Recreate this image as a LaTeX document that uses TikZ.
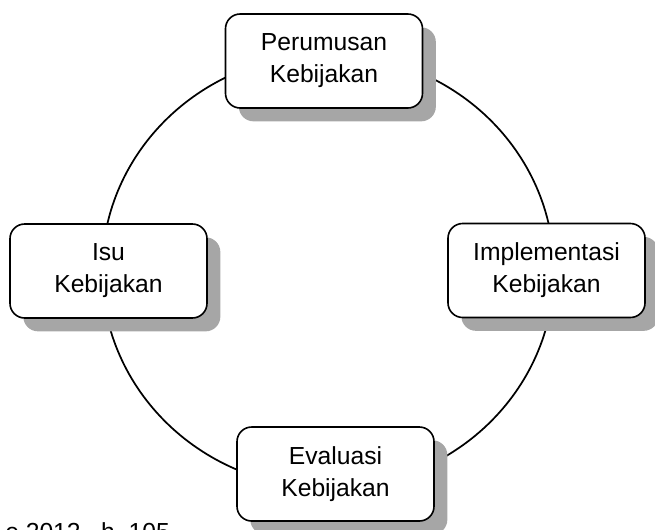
\documentclass[tikz,border=0pt]{standalone}
\usepackage{fontspec}
\setmainfont{Liberation Sans}
\usepackage{xcolor}
\usepackage{tikz}
\usetikzlibrary{shadows}

\begin{document}
\begin{tikzpicture}[x=0.75pt,y=-0.75pt,font=\fontsize{18.5}{24}\selectfont,
  tahap/.style={draw,line width=1.2pt,fill=white,rounded corners=11pt,align=center,
    minimum width=147.75pt,minimum height=70.5pt,inner sep=0pt,
    drop shadow={shadow xshift=10pt,shadow yshift=-10pt,fill=black!35,opacity=1}}]
\useasboundingbox (0,0) rectangle (655,529);
% siklus kebijakan
\draw[line width=1.3pt] (328,271) ellipse [x radius=226, y radius=217];
\node[tahap] (rumus) at (324,61) {Perumusan\\ Kebijakan};
\node[tahap] (isu) at (108.5,271) {Isu\\ Kebijakan};
\node[tahap] (impl) at (546.5,270.5) {Implementasi\\ Kebijakan};
\node[tahap] (eval) at (335.5,474) {Evaluasi\\ Kebijakan};
% sumber (terpotong)
\node[anchor=north west,inner sep=0pt] (sumber) at (5,522) {e 2012,\ \ h.\ 105};
\end{tikzpicture}
\end{document}
